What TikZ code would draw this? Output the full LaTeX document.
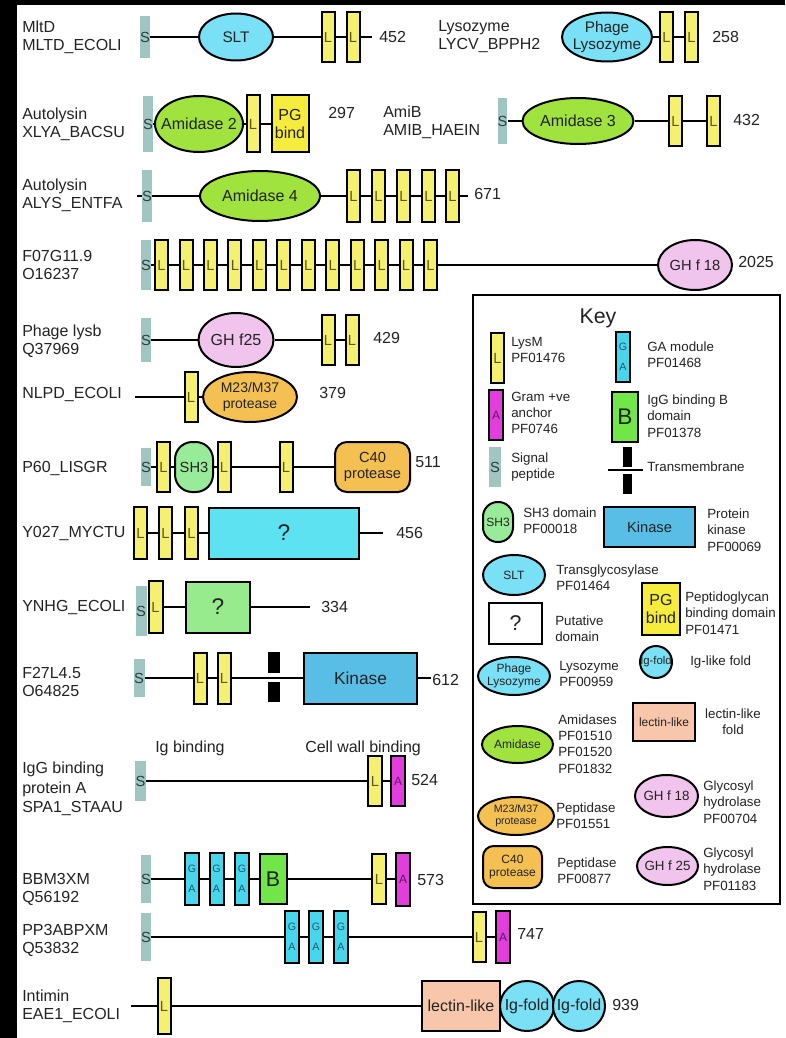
\documentclass[tikz,border=0pt]{standalone}
\usepackage{fontspec}
\setmainfont{Liberation Sans}
\usetikzlibrary{shapes.geometric}
\newcommand\fs[2]{\fontsize{#1}{#2}\selectfont}
\definecolor{txt}{RGB}{35,35,35}
\definecolor{sigcol}{RGB}{160,198,194}
\definecolor{sigtxt}{RGB}{40,62,62}
\definecolor{lyscol}{RGB}{245,240,112}
\definecolor{ltxt}{RGB}{95,88,30}
\definecolor{cyanE}{RGB}{122,224,245}
\definecolor{qcyan}{RGB}{92,226,240}
\definecolor{kincol}{RGB}{88,190,230}
\definecolor{amicol}{RGB}{160,226,62}
\definecolor{pgcol}{RGB}{246,236,62}
\definecolor{ghcol}{RGB}{240,196,236}
\definecolor{protcol}{RGB}{245,192,82}
\definecolor{sh3col}{RGB}{152,235,152}
\definecolor{qgreen}{RGB}{152,235,140}
\definecolor{bcol}{RGB}{112,230,72}
\definecolor{gacol}{RGB}{72,214,236}
\definecolor{gatxt}{RGB}{30,90,110}
\definecolor{acol}{RGB}{226,62,220}
\definecolor{atxt}{RGB}{100,20,100}
\definecolor{lectcol}{RGB}{248,198,170}
\begin{document}
\begin{tikzpicture}[x=0.75pt,y=-0.75pt,
  sz/.style 2 args={minimum width=#1*0.75pt, minimum height=#2*0.75pt},
  lab/.style={anchor=west, align=left, inner sep=0pt, text=txt, font=\fs{12}{13.5}},
  num/.style={anchor=west, inner sep=0pt, text=txt, font=\fs{12}{13}},
  kt/.style={anchor=west, align=left, inner sep=0pt, text=txt, font=\fs{10}{12.2}},
  conn/.style={line width=1.5pt, draw=black},
  dom/.style={draw=black, line width=1.5pt, inner sep=0pt, text=txt, align=center},
  sig/.style={fill=sigcol, inner sep=0pt, text=sigtxt, font=\fs{11}{12}},
  lbox/.style={dom, fill=lyscol, text=ltxt, font=\fs{11}{12}, sz={13}{50}},
  ga/.style={dom, fill=gacol, text=gatxt, font=\fs{8}{15}, sz={14}{52}},
  abox/.style={dom, fill=acol, text=atxt, font=\fs{9}{10}, sz={14}{52}},
  tmbar/.style={fill=black, inner sep=0pt},
  ell/.style={dom, ellipse},
  lt/.style={inner sep=0pt, align=center, text=txt},
  et/.style 2 args={label={[lt,font=#1]center:#2}}
]
\useasboundingbox (0,0) rectangle (785,1038);
\fill[black] (0,0) rectangle (785,1038);
\fill[white] (17,5) rectangle (785,1038);

% Row 1 MltD
\node[lab] (n1) at (22,37) {MltD\\MLTD\_ECOLI};
\node[sig, sz={10}{42}] (s1) at (145,37) {S};
\node[ell, fill=cyanE, sz={74}{47}, et={\fs{11.5}{12}}{SLT}] (slt1) at (236,37) {};
\node[lbox] (l1a) at (328,37) {L};
\node[lbox] (l1b) at (353,37) {L};
\coordinate (e1) at (372,37);
\node[num] (c1) at (379,37) {452};
\draw[conn] (s1) -- (slt1) -- (l1a) -- (l1b) -- (e1);

% Lysozyme
\node[lab] (n1b) at (438,37) {Lysozyme\\LYCV\_BPPH2};
\node[ell, fill=cyanE, sz={90}{49}, et={\fs{11.5}{13}}{Phage\\Lysozyme}] (ph1) at (607,37) {};
\node[lbox] (l1c) at (666.5,37) {L};
\node[lbox] (l1d) at (691.5,37) {L};
\node[num] (c1b) at (712,37) {258};
\draw[conn] (ph1) -- (l1c) -- (l1d);

% Row 2 Autolysin XLYA
\node[lab] (n2) at (22,124) {Autolysin\\XLYA\_BACSU};
\node[sig, sz={9}{56}] (s2) at (148,124) {S};
\node[ell, fill=amicol, sz={88}{56}, et={\fs{12}{13}}{Amidase 2}] (am2) at (199,124) {};
\node[lbox, sz={13}{57}] (l2a) at (253,124) {L};
\node[dom, fill=pgcol, sz={37}{57}, font=\fs{12}{13}] (pg2) at (290,124) {PG\\bind};
\node[num] (c2) at (328,113) {297};
\draw[conn] (s2) -- (am2) -- (l2a) -- (pg2);

% AmiB
\node[lab] (n2b) at (383,122) {AmiB\\AMIB\_HAEIN};
\node[sig, sz={9}{46}] (s2b) at (502.5,121) {S};
\node[ell, fill=amicol, sz={111}{46}, et={\fs{12}{13}}{Amidase 3}] (am3) at (578,121) {};
\node[lbox] (l2c) at (675.5,121) {L};
\node[lbox] (l2d) at (713.5,121) {L};
\node[num] (c2b) at (733,120) {432};
\draw[conn] (s2b) -- (am3) -- (l2c) -- (l2d);

% Row 3 Autolysin ALYS
\node[lab] (n3) at (22,195) {Autolysin\\ALYS\_ENTFA};
\coordinate (b3) at (137,196);
\node[sig, sz={9}{52}] (s3) at (147,196) {S};
\node[ell, fill=amicol, sz={120}{50}, et={\fs{12}{13}}{Amidase 4}] (am4) at (260,196) {};
\node[lbox, sz={13}{52}] (l3a) at (353.5,196) {L};
\node[lbox, sz={13}{52}] (l3b) at (378.5,196) {L};
\node[lbox, sz={13}{52}] (l3c) at (403.5,196) {L};
\node[lbox, sz={13}{52}] (l3d) at (428.5,196) {L};
\node[lbox, sz={13}{52}] (l3e) at (452.5,196) {L};
\coordinate (e3) at (468,196);
\node[num] (c3) at (474,194) {671};
\draw[conn] (b3) -- (s3) -- (am4) -- (l3a) -- (l3b) -- (l3c) -- (l3d) -- (l3e) -- (e3);

% Row 4 F07G11.9
\node[lab] (n4) at (22,265) {F07G11.9\\O16237};
\node[sig, sz={9}{50}] (s4) at (146,265) {S};
\node[lbox] (l4a) at (161.5,265) {L};
\node[lbox] (l4b) at (186,265) {L};
\node[lbox] (l4c) at (210.4,265) {L};
\node[lbox] (l4d) at (234.9,265) {L};
\node[lbox] (l4e) at (259.3,265) {L};
\node[lbox] (l4f) at (283.8,265) {L};
\node[lbox] (l4g) at (308.2,265) {L};
\node[lbox] (l4h) at (332.7,265) {L};
\node[lbox] (l4i) at (357.1,265) {L};
\node[lbox] (l4j) at (381.6,265) {L};
\node[lbox] (l4k) at (406,265) {L};
\node[lbox] (l4l) at (430.5,265) {L};
\node[ell, fill=ghcol, sz={74}{50}, et={\fs{11}{12}}{GH f 18}] (gh18) at (695,265) {};
\node[num] (c4) at (738,262) {2025};
\draw[conn] (s4) -- (l4a) -- (l4b) -- (l4c) -- (l4d) -- (l4e) -- (l4f) -- (l4g) -- (l4h) -- (l4i) -- (l4j) -- (l4k) -- (l4l) -- (gh18);

% Row 5 Phage lysb
\node[lab] (n5) at (22,341) {Phage lysb\\Q37969};
\node[sig, sz={9}{44}] (s5) at (146,340) {S};
\node[ell, fill=ghcol, sz={75}{54}, et={\fs{12}{13}}{GH f25}] (gh25) at (236,340) {};
\node[lbox] (l5a) at (328,340) {L};
\node[lbox] (l5b) at (352,340) {L};
\node[num] (c5) at (373,338) {429};
\draw[conn] (s5) -- (gh25) -- (l5a) -- (l5b);

% Row 6 NLPD
\node[lab] (n6) at (22,395) {NLPD\_ECOLI};
\coordinate (b6) at (135,397);
\node[lbox] (l6) at (191,397) {L};
\node[ell, fill=protcol, sz={94}{50}, et={\fs{10.5}{12}}{M23/M37\\protease}] (m23) at (250,397) {};
\node[num] (c6) at (319,393) {379};
\draw[conn] (b6) -- (l6) -- (m23);

% Row 7 P60
\node[lab] (n7) at (22,468) {P60\_LISGR};
\node[sig, sz={9}{38}] (s7) at (146,467) {S};
\node[lbox] (l7a) at (163.5,467) {L};
\node[dom, fill=sh3col, sz={38}{50}, rounded corners=13pt, font=\fs{11}{12}] (sh3) at (194,467) {SH3};
\node[lbox] (l7b) at (224,467) {L};
\node[lbox] (l7c) at (286,467) {L};
\node[dom, fill=protcol, sz={75}{50}, rounded corners=9pt, font=\fs{11}{12.5}] (c40) at (372.5,467) {C40\\protease};
\node[num] (c7) at (415,462) {511};
\draw[conn] (s7) -- (l7a) -- (sh3) -- (l7b) -- (l7c) -- (c40);

% Row 8 Y027
\node[lab] (n8) at (22,533) {Y027\_MYCTU};
\node[lbox, sz={13}{52}] (l8a) at (140.5,533) {L};
\node[lbox, sz={13}{52}] (l8b) at (165.5,533) {L};
\node[lbox, sz={13}{52}] (l8c) at (191.5,533) {L};
\node[dom, fill=qcyan, sz={150}{51}, font=\fs{17}{18}] (q8) at (284,533) {?};
\coordinate (e8) at (383,533);
\node[num] (c8) at (396,533) {456};
\draw[conn] (l8a) -- (l8b) -- (l8c) -- (q8) -- (e8);

% Row 9 YNHG
\node[lab] (n9) at (22,607) {YNHG\_ECOLI};
\node[sig, sz={11}{50}] (s9) at (141,611) {S};
\node[lbox, sz={14}{52}] (l9) at (155.5,607) {L};
\node[dom, fill=qgreen, sz={64}{51}, font=\fs{17}{18}] (q9) at (218,607) {?};
\coordinate (e9) at (310,607);
\node[num] (c9) at (321,607) {334};
\draw[conn] (l9) -- (q9) -- (e9);

% Row 10 F27L4.5
\node[lab] (n10) at (22,682) {F27L4.5\\O64825};
\node[sig, sz={11}{38}] (s10) at (139,678) {S};
\node[lbox, sz={13}{51}] (l10a) at (200,678) {L};
\node[lbox, sz={13}{51}] (l10b) at (224,678) {L};
\node[tmbar, sz={12}{21}] (tm1) at (274,662.5) {};
\node[tmbar, sz={12}{20}] (tm2) at (274,692) {};
\node[dom, fill=kincol, sz={113}{51}, font=\fs{13}{14}] (kin) at (360.5,678) {Kinase};
\coordinate (e10) at (431,678);
\node[num] (c10) at (432,680) {612};
\draw[conn] (s10) -- (l10a) -- (l10b) -- (kin) -- (e10);

% Row 11 protein A
\node[num] (ig) at (155,748) {Ig binding};
\node[num] (cw) at (305,748) {Cell wall binding};
\node[lab, font=\fs{12}{14.5}] (n11) at (22,789) {IgG binding\\protein A\\SPA1\_STAAU};
\node[sig, sz={11}{40}] (s11) at (140.5,781) {S};
\node[lbox, sz={14}{50}] (l11) at (375,781) {L};
\node[abox, sz={14}{50}] (a11) at (398,781) {A};
\node[num] (c11) at (411,780) {524};
\draw[conn] (s11) -- (l11) -- (a11);

% Row 12 BBM3XM
\node[lab] (n12) at (22,889) {BBM3XM\\Q56192};
\node[sig, sz={9}{48}] (s12) at (146,879) {S};
\node[ga] (g12a) at (192,879) {G\\A};
\node[ga] (g12b) at (216.5,879) {G\\A};
\node[ga] (g12c) at (242,879) {G\\A};
\node[dom, fill=bcol, sz={27}{50}, font=\fs{16}{17}] (b12) at (273,879) {B};
\node[lbox, sz={14}{50}] (l12) at (379,879) {L};
\node[abox, sz={14}{53}] (a12) at (403,879) {A};
\node[num] (c12) at (417,880) {573};
\draw[conn] (s12) -- (g12a) -- (g12b) -- (g12c) -- (b12) -- (l12) -- (a12);

% Row 13 PP3ABPXM
\node[lab] (n13) at (22,940) {PP3ABPXM\\Q53832};
\node[sig, sz={9}{48}] (s13) at (146,937) {S};
\node[ga] (g13a) at (292,937) {G\\A};
\node[ga] (g13b) at (316,937) {G\\A};
\node[ga] (g13c) at (341,937) {G\\A};
\node[lbox] (l13) at (479,937) {L};
\node[abox] (a13) at (503,937) {A};
\node[num] (c13) at (517,934) {747};
\draw[conn] (s13) -- (g13a) -- (g13b) -- (g13c) -- (l13) -- (a13);

% Row 14 Intimin
\node[lab] (n14) at (22,1006) {Intimin\\EAE1\_ECOLI};
\coordinate (b14) at (131,1006);
\node[lbox, sz={13}{56}] (l14) at (164,1006) {L};
\node[dom, fill=lectcol, sz={78}{50}, font=\fs{12}{13}] (lec) at (461,1006) {lectin-like};
\node[ell, fill=cyanE, sz={54}{50}, et={\fs{12}{13}}{Ig-fold}] (ig1) at (527,1006) {};
\node[ell, fill=cyanE, sz={52}{50}, et={\fs{12}{13}}{Ig-fold}] (ig2) at (579,1006) {};
\node[num] (c14) at (612,1005) {939};
\draw[conn] (b14) -- (l14) -- (lec);

% Key
\node[draw=black, line width=2.2pt, sz={307}{609}, inner sep=0pt] (key) at (626.5,599.5) {};
\node[inner sep=0pt, text=txt, font=\fs{16}{17}] (ktitle) at (598,318) {Key};
\node[lbox, sz={13}{50}] (kl) at (497.5,358) {L};
\node[kt] (klt) at (511,350) {LysM\\PF01476};
\node[ga, sz={14}{50}] (kga) at (623,357) {G\\A};
\node[kt] (kgat) at (647,355) {GA module\\PF01468};
\node[abox, sz={14}{50}] (ka) at (496,415) {A};
\node[kt] (kat) at (511,413) {Gram +ve\\anchor\\PF0746};
\node[dom, fill=bcol, sz={26}{50}, font=\fs{17}{18}] (kb) at (625,417) {B};
\node[kt] (kbt) at (647,416) {IgG binding B\\domain\\PF01378};
\node[sig, sz={12}{40}] (ks) at (495,467) {S};
\node[kt] (kst) at (511,467) {Signal\\peptide};
\coordinate (tma) at (608,470);
\coordinate (tmb) at (643,470);
\draw[conn] (tma) -- (tmb);
\node[tmbar, sz={9}{20}] (ktm1) at (627.5,457) {};
\node[tmbar, sz={9}{20}] (ktm2) at (627.5,484) {};
\node[kt] (ktmt) at (647,467) {Transmembrane};
\node[dom, fill=sh3col, sz={30}{40}, rounded corners=11pt, font=\fs{9}{10}] (ksh3) at (498,522) {SH3};
\node[kt] (ksh3t) at (523,521) {SH3 domain\\PF00018};
\node[dom, fill=kincol, sz={91}{40}, font=\fs{11}{12}] (kkin) at (649.5,527) {Kinase};
\node[kt] (kkint) at (707,530) {Protein\\kinase\\PF00069};
\node[ell, fill=cyanE, sz={62}{40}, et={\fs{9}{10}}{SLT}] (kslt) at (514,575) {};
\node[kt] (ksltt) at (556,578) {Transglycosylase\\PF01464};
\node[dom, fill=pgcol, sz={38}{52}, font=\fs{12}{13}] (kpg) at (661,609) {PG\\bind};
\node[kt] (kpgt) at (685,613) {Peptidoglycan\\binding domain\\PF01471};
\node[dom, fill=white, sz={53}{41}, font=\fs{16}{17}] (kq) at (515.5,623.5) {?};
\node[kt] (kqt) at (555,629) {Putative\\domain};
\node[ell, fill=cyanE, sz={32}{32}, et={\fs{8.5}{9}}{Ig-fold}] (kig) at (656,662) {};
\node[kt] (kigt) at (690,662) {Ig-like fold};
\node[ell, fill=cyanE, sz={72}{38}, et={\fs{9}{9.5}}{Phage\\Lysozyme}] (kph) at (514,676) {};
\node[kt] (kpht) at (559,674) {Lysozyme\\PF00959};
\node[dom, fill=lectcol, sz={62}{38}, font=\fs{9}{10}] (klec) at (664,722) {lectin-like};
\node[kt, align=center, anchor=center] (klect) at (733,722) {lectin-like\\fold};
\node[ell, fill=amicol, sz={71}{37}, et={\fs{9}{10}}{Amidase}] (kam) at (517.5,744.5) {};
\node[kt] (kamt) at (558,744) {Amidases\\PF01510\\PF01520\\PF01832};
\node[ell, fill=ghcol, sz={63}{42}, et={\fs{10}{11}}{GH f 18}] (kgh18) at (666.5,796) {};
\node[kt] (kgh18t) at (703,802) {Glycosyl\\hydrolase\\PF00704};
\node[ell, fill=protcol, sz={76}{38}, et={\fs{8}{9}}{M23/M37\\protease}] (km23) at (516,816) {};
\node[kt] (km23t) at (556,816) {Peptidase\\PF01551};
\node[dom, fill=protcol, sz={59}{42}, rounded corners=8pt, font=\fs{9}{10}] (kc40) at (512.5,867) {C40\\protease};
\node[kt] (kc40t) at (557,871) {Peptidase\\PF00877};
\node[ell, fill=ghcol, sz={61}{38}, et={\fs{10}{11}}{GH f 25}] (kgh25) at (667.5,866) {};
\node[kt] (kgh25t) at (703,869) {Glycosyl\\hydrolase\\PF01183};
\end{tikzpicture}
\end{document}
